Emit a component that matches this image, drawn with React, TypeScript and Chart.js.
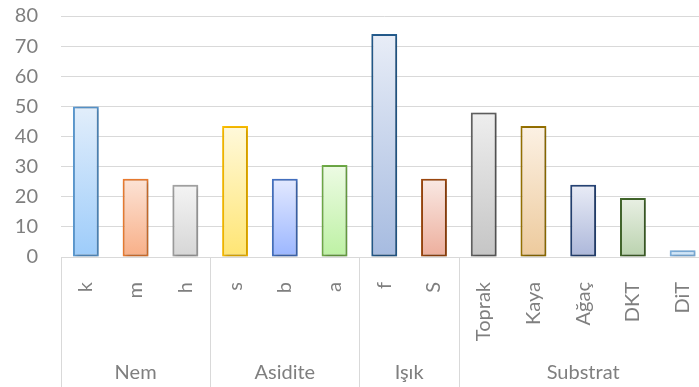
import React, { useEffect, useRef } from "react";
import { Chart, registerables } from "chart.js";

Chart.register(...registerables);

const categories = ["k", "m", "h", "s", "b", "a", "f", "S", "Toprak", "Kaya", "Ağaç", "DKT", "DiT"];
const values = [50, 26, 24, 43.5, 26, 30.5, 74, 26, 48, 43.5, 24, 19.6, 2.2];
const groups = ["Nem", "Asidite", "Işık", "Substrat"];
const groupSizes = [3, 3, 2, 5];
const yTicks = [0, 10, 20, 30, 40, 50, 60, 70, 80];

const borderColors = ["#5B9BD5", "#ED7D31", "#A5A5A5", "#FFC000", "#4472C4", "#70AD47", "#255E91", "#9E480E", "#636363", "#997300", "#264478", "#43682B", "#7CAFDD"];
const fillTop = ["#E2EEFB", "#FCE3D6", "#F4F4F4", "#FFF9DB", "#E3E9FF", "#EDFBE4", "#E8EDF7", "#F9E9E4", "#EEEEEE", "#FCF1E4", "#E9ECF6", "#E9F0E4", "#DEEEFD"];
const fillBottom = ["#9DCCFA", "#F8AF87", "#D6D6D6", "#FFE573", "#9BB6FF", "#BDF1A3", "#A6BBE0", "#EDAE9C", "#C5C5C5", "#EDCA9C", "#ACB7DA", "#BAD2AE", "#BBDDF9"];

const FONT = "Lato, 'Open Sans', sans-serif";
const TEXT = "#7F7F7F";
const LINE = "#D9D9D9";

export default function App() {
  const ref = useRef<HTMLCanvasElement>(null);
  useEffect(() => {
    const canvas = ref.current!;
    const groupPlugin = {
      id: "groups",
      beforeDatasetsDraw(chart: any) {
        const c = chart.ctx;
        c.save();
        c.shadowColor = "rgba(0,0,0,0.3)";
        c.shadowBlur = 4;
        c.shadowOffsetX = 1;
        c.shadowOffsetY = 1;
      },
      afterDatasetsDraw(chart: any) {
        chart.ctx.restore();
      },
      afterDraw(chart: any) {
        const c = chart.ctx;
        const area = chart.chartArea;
        const step = (area.right - area.left) / categories.length;
        c.save();
        c.strokeStyle = LINE;
        c.lineWidth = 1;
        let idx = 0;
        const bounds: number[] = [area.left];
        groupSizes.forEach((n) => {
          idx += n;
          bounds.push(area.left + idx * step);
        });
        bounds.forEach((bx, i) => {
          if (i === bounds.length - 1) return;
          const px = Math.round(bx) + 0.5;
          c.beginPath();
          c.moveTo(px, area.bottom);
          c.lineTo(px, chart.height);
          c.stroke();
        });
        c.fillStyle = TEXT;
        c.font = `20px ${FONT}`;
        c.textAlign = "center";
        c.textBaseline = "alphabetic";
        groups.forEach((g, i) => {
          const cx = (bounds[i] + bounds[i + 1]) / 2;
          c.fillText(g, cx, 379);
        });
        c.restore();
      },
    };
    const chart = new Chart(canvas, {
      type: "bar",
      data: {
        labels: categories,
        datasets: [
          {
            data: values,
            borderColor: borderColors,
            borderWidth: 2,
            borderSkipped: false,
            barPercentage: 0.52,
            categoryPercentage: 1,
            backgroundColor: (ctx: any) => {
              const chart = ctx.chart;
              const y = chart.scales?.y;
              const i = ctx.dataIndex;
              if (!y || i === undefined) return fillTop[0];
              const top = y.getPixelForValue(values[i]);
              const bottom = y.getPixelForValue(0);
              if (!isFinite(top) || !isFinite(bottom) || top === bottom) return fillTop[i];
              const g = chart.ctx.createLinearGradient(0, top, 0, bottom);
              g.addColorStop(0, fillTop[i]);
              g.addColorStop(1, fillBottom[i]);
              return g;
            },
          },
        ],
      },
      options: {
        responsive: false,
        animation: false,
        layout: { padding: { top: 16, right: 22.5, left: 0, bottom: 0 } },
        plugins: { legend: { display: false }, tooltip: { enabled: false } },
        scales: {
          x: {
            grid: { display: false, drawTicks: false },
            border: { display: true, color: LINE, width: 1 },
            ticks: {
              autoSkip: false,
              minRotation: 90,
              maxRotation: 90,
              padding: 25,
              color: TEXT,
              font: { family: FONT, size: 20 },
            },
            afterFit: (s: any) => {
              s.height = 130;
              s.paddingLeft = 0;
              s.paddingRight = 0;
            },
          },
          y: {
            min: 0,
            max: 80,
            afterBuildTicks: (s: any) => {
              s.ticks = yTicks.map((v) => ({ value: v }));
            },
            grid: { color: LINE, lineWidth: 1, drawTicks: false },
            border: { display: false },
            ticks: {
              padding: 23,
              color: TEXT,
              font: { family: FONT, size: 20 },
            },
            afterFit: (s: any) => {
              s.width = 61;
              s.paddingTop = 0;
              s.paddingBottom = 0;
            },
          },
        },
      },
      plugins: [groupPlugin],
    });
    return () => chart.destroy();
  }, []);
  return (
    <div style={{ position: "fixed", left: 0, top: 0, width: 699, height: 387, overflow: "hidden", background: "#fff" }}>
      <canvas ref={ref} width={730} height={387} style={{ width: 730, height: 387, display: "block" }} />
    </div>
  );
}
